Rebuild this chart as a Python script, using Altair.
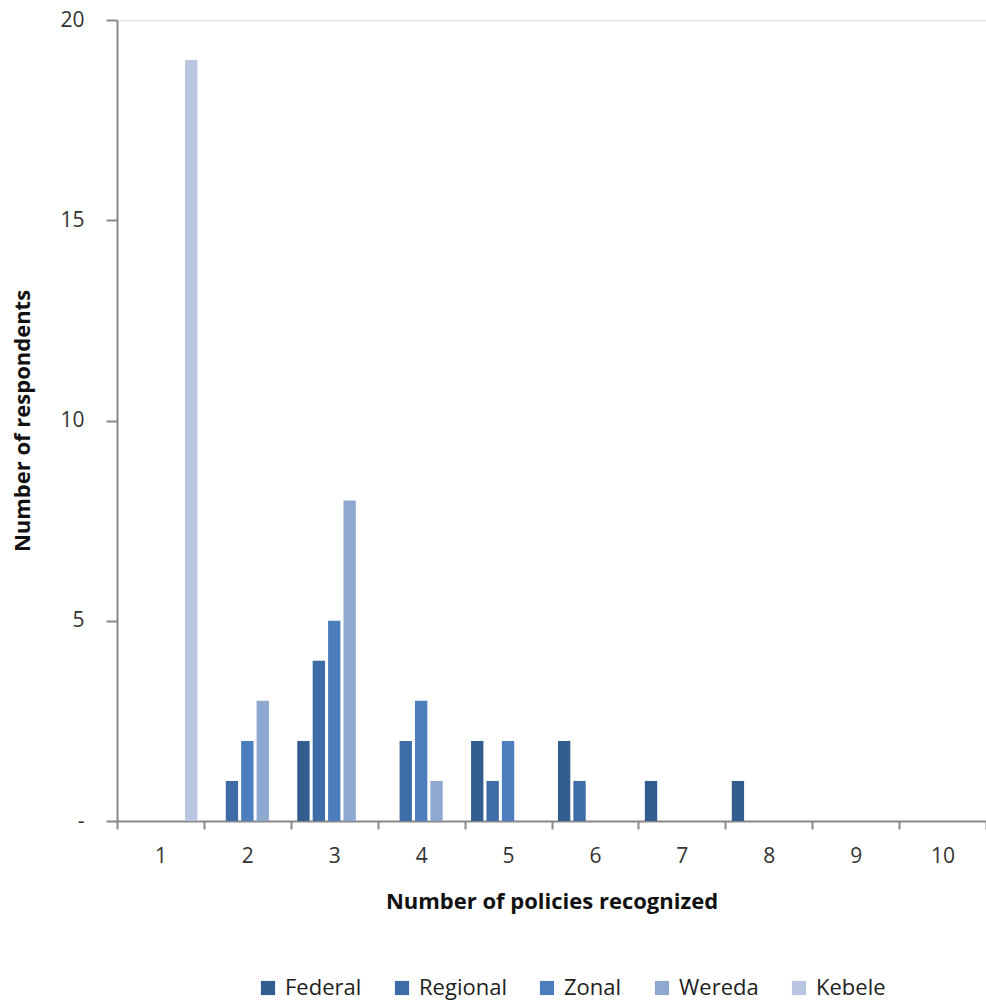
import altair as alt
import pandas as pd

categories = ["1", "2", "3", "4", "5", "6", "7", "8", "9", "10"]
series = ["Federal", "Regional", "Zonal", "Wereda", "Kebele"]
federal = [0, 0, 2, 0, 2, 2, 1, 1, 0, 0]
regional = [0, 1, 4, 2, 1, 1, 0, 0, 0, 0]
zonal = [0, 2, 5, 3, 2, 0, 0, 0, 0, 0]
wereda = [0, 3, 8, 1, 0, 0, 0, 0, 0, 0]
kebele = [19, 0, 0, 0, 0, 0, 0, 0, 0, 0]
colors = ["#325D8F", "#3E6CA7", "#4C7EBD", "#8FA8D0", "#B8C6E1"]

rows = []
for name, vals in zip(series, [federal, regional, zonal, wereda, kebele]):
    for c, v in zip(categories, vals):
        rows.append({"policies": c, "level": name, "count": v})
df = pd.DataFrame(rows)

FONT = "Open Sans"

chart = alt.Chart(df).mark_bar().encode(
    x=alt.X("policies:N", sort=categories,
            scale=alt.Scale(domain=categories, paddingInner=0, paddingOuter=0),
            axis=alt.Axis(title="Number of policies recognized", labelAngle=0,
                          tickBand="extent", domainColor="#888888", tickColor="#888888",
                          domainWidth=2, tickWidth=2, tickSize=8, labelPadding=16,
                          labelFontSize=21, labelColor="#333333", labelFont=FONT,
                          titleFont=FONT, titleFontSize=22, titleFontWeight="bold",
                          titleColor="#111111", titlePadding=25)),
    xOffset=alt.XOffset("level:N", sort=series,
                        scale=alt.Scale(domain=series, paddingInner=0.2, paddingOuter=0.42)),
    y=alt.Y("count:Q", scale=alt.Scale(domain=[0, 20], nice=False),
            axis=alt.Axis(title="Number of respondents", values=[0, 5, 10, 15, 20],
                          labelExpr="datum.value == 0 ? '-' : datum.label",
                          grid=False, domainColor="#888888", tickColor="#888888",
                          domainWidth=2, tickWidth=2, tickSize=11, labelPadding=22,
                          labelFontSize=21, labelColor="#333333", labelFont=FONT,
                          titleFont=FONT, titleFontSize=22, titleFontWeight="bold",
                          titleColor="#111111", titlePadding=25)),
    color=alt.Color("level:N", sort=series,
                    scale=alt.Scale(domain=series, range=colors),
                    legend=alt.Legend(title=None, orient="none", direction="horizontal",
                                      legendX=140, legendY=957, symbolType="square",
                                      symbolSize=200, symbolStrokeWidth=0,
                                      labelFontSize=22, labelFont=FONT,
                                      labelColor="#222222", columnPadding=29,
                                      labelOffset=6)),
).transform_filter(
    alt.datum.count > 0
).properties(
    width=869, height=801,
    autosize=alt.AutoSizeParams(type="none"),
    padding={"left": 117, "top": 20, "right": 0, "bottom": 184},
).configure_view(stroke=None).configure(background="white")

chart.save("out.html", embed_options={"renderer": "svg", "actions": False})
